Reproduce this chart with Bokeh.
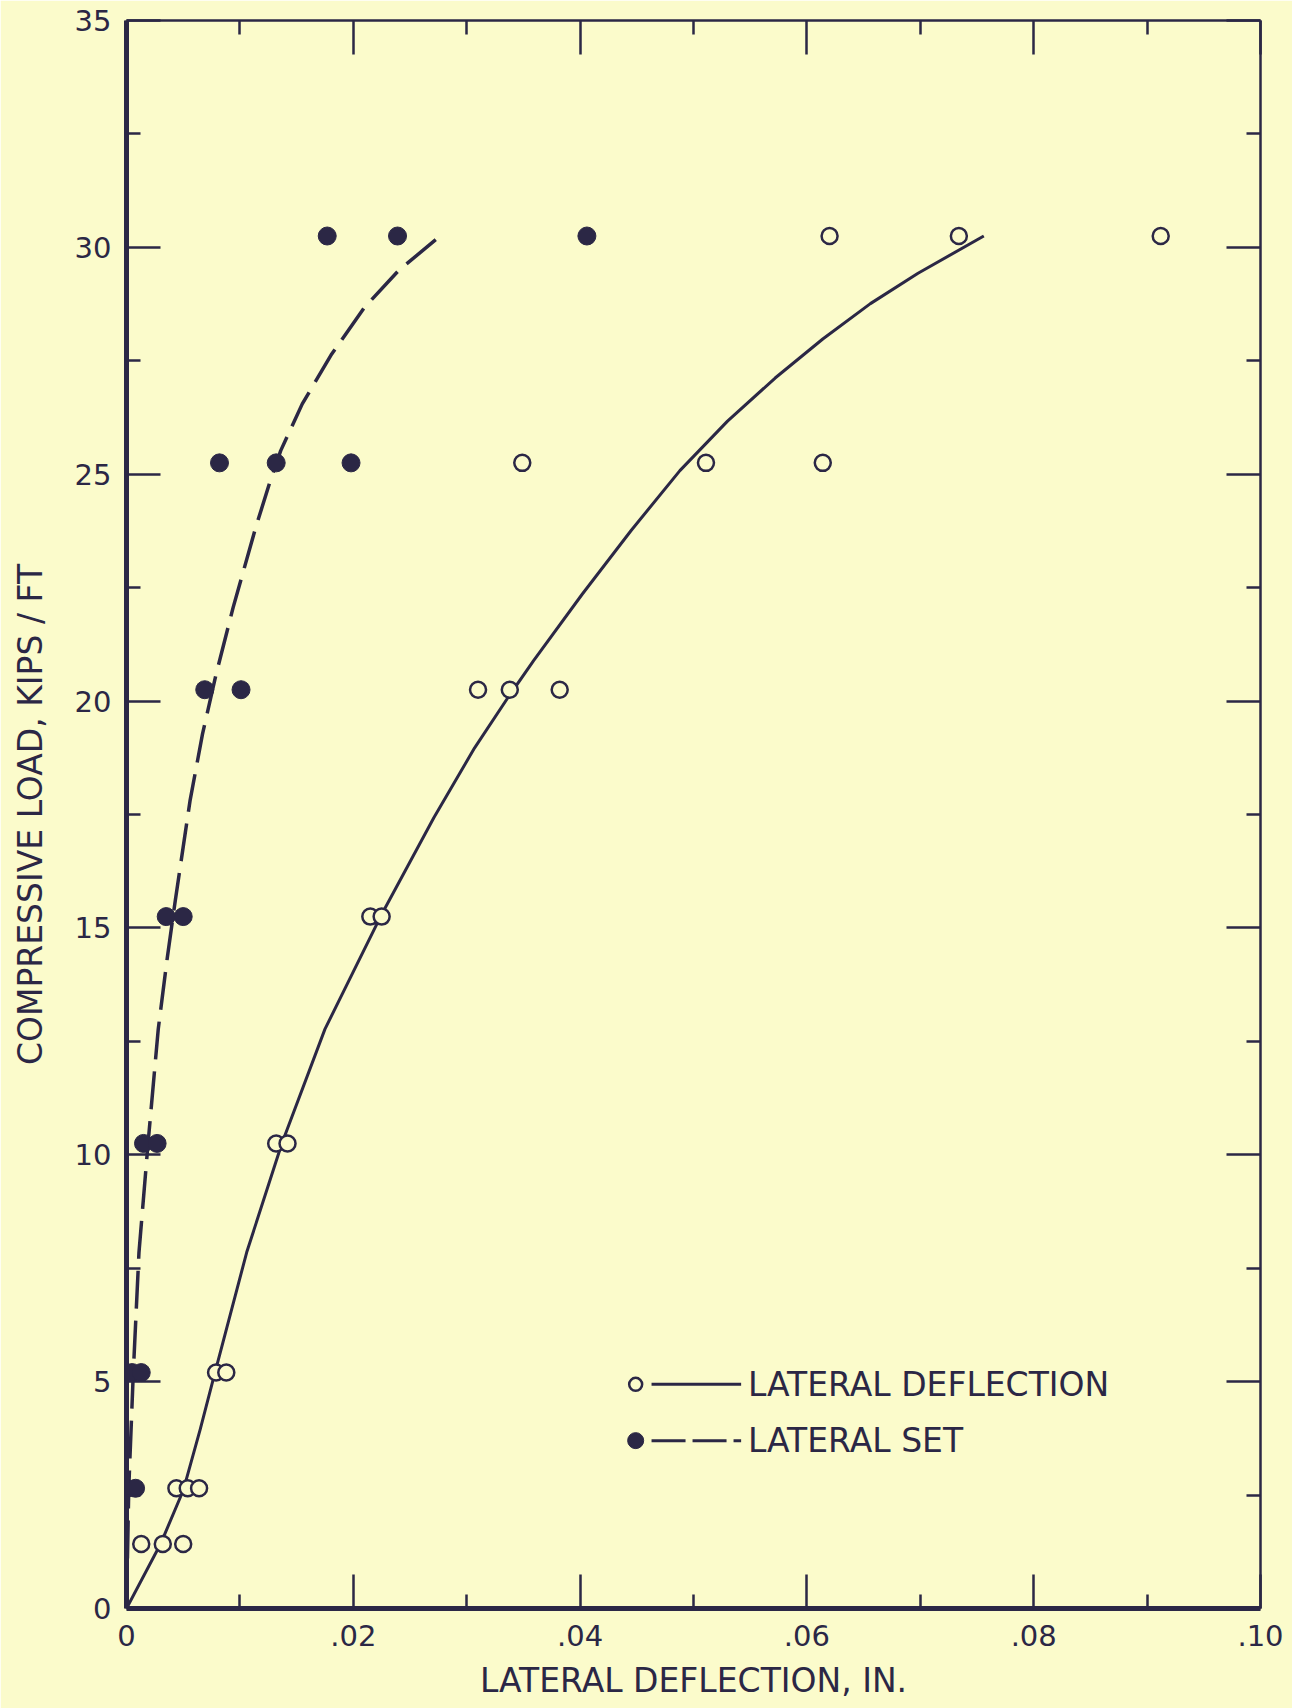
from bokeh.plotting import figure
from bokeh.models import Range1d, LinearAxis, FixedTicker, Label
from bokeh.embed import file_html
from bokeh.resources import INLINE

# ---------------- data ----------------
# Lateral deflection (open circles), inches, and load, kips/ft
defl_x = [0.0620, 0.0734, 0.0912,
          0.0349, 0.0511, 0.0614,
          0.0310, 0.0338, 0.0382,
          0.0215, 0.0225,
          0.0132, 0.0142,
          0.0079, 0.0088,
          0.0044, 0.0054, 0.0064,
          0.0013, 0.0032, 0.0050]
defl_load = [30.25, 30.25, 30.25,
             25.25, 25.25, 25.25,
             20.25, 20.25, 20.25,
             15.25, 15.25,
             10.25, 10.25,
             5.2, 5.2,
             2.65, 2.65, 2.65,
             1.42, 1.42, 1.42]

# Lateral set (filled circles)
set_x = [0.0177, 0.0239, 0.0406,
         0.0082, 0.0132, 0.0198,
         0.0069, 0.0101,
         0.0035, 0.0050,
         0.0015, 0.0027,
         0.0005, 0.0013,
         0.0000, 0.0008]
set_load = [30.25, 30.25, 30.25,
            25.25, 25.25, 25.25,
            20.25, 20.25,
            15.25, 15.25,
            10.25, 10.25,
            5.2, 5.2,
            2.65, 2.65]

# Faired curve through lateral deflection (solid)
defl_curve_x = [0.0, 0.0030, 0.0050, 0.0065, 0.0078, 0.0106, 0.0137, 0.0175,
                0.0224, 0.0271, 0.0307, 0.0337, 0.0359, 0.0402, 0.0445,
                0.0488, 0.0530, 0.0572, 0.0614, 0.0656, 0.0698, 0.0756]
defl_curve_y = [0.0, 1.42, 2.6, 3.95, 5.2, 7.85, 10.25, 12.77,
                15.25, 17.43, 18.97, 20.1, 20.89, 22.36, 23.76,
                25.08, 26.17, 27.12, 27.98, 28.76, 29.43, 30.25]

# Faired curve through lateral set (dashed)
set_curve_x = [0.0, 0.0002, 0.0006, 0.0011, 0.0019, 0.0028, 0.0036, 0.0043,
               0.0056, 0.0067, 0.0079, 0.0094, 0.0114, 0.0126, 0.0136,
               0.0155, 0.0181, 0.0210, 0.0240, 0.0277]
set_curve_y = [0.0, 2.65, 5.2, 7.85, 10.25, 12.77, 14.35, 15.6,
               17.8, 19.27, 20.59, 22.06, 23.83, 24.79, 25.52,
               26.55, 27.65, 28.68, 29.49, 30.26]

x_ticks = [0.0, 0.02, 0.04, 0.06, 0.08, 0.10]
x_tick_labels = ["0", ".02", ".04", ".06", ".08", ".10"]
x_minor_ticks = [0.01, 0.03, 0.05, 0.07, 0.09]
y_ticks = [0, 5, 10, 15, 20, 25, 30, 35]
y_tick_labels = ["0", "5", "10", "15", "20", "25", "30", "35"]
y_minor_ticks = [2.5, 7.5, 12.5, 17.5, 22.5, 27.5, 32.5]

x_title = "LATERAL DEFLECTION, IN."
y_title = "COMPRESSIVE LOAD, KIPS / FT"
legend_labels = ["LATERAL DEFLECTION", "LATERAL SET"]
fig_caption = "FIG. 7"

# ---------------- styling ----------------
BG = "#FBFBCB"
INK = "#2B2745"
FONT = "DejaVu Sans"

p = figure(width=1292, height=1708,
           x_range=Range1d(0, 0.10), y_range=Range1d(0, 35),
           output_backend="svg", toolbar_location=None,
           min_border_left=126, min_border_right=32,
           min_border_top=20, min_border_bottom=100)
p.background_fill_color = BG
p.border_fill_color = BG
p.outline_line_color = None
p.xgrid.visible = False
p.ygrid.visible = False

xt = FixedTicker(ticks=x_ticks, minor_ticks=x_minor_ticks)
yt = FixedTicker(ticks=y_ticks, minor_ticks=y_minor_ticks)


def style_axis(ax, lw, labels):
    ax.axis_line_color = INK
    ax.axis_line_width = lw
    ax.major_tick_line_color = INK
    ax.minor_tick_line_color = INK
    ax.major_tick_line_width = 2.5
    ax.minor_tick_line_width = 2.5
    ax.major_tick_in = 34
    ax.major_tick_out = 0
    ax.minor_tick_in = 14
    ax.minor_tick_out = 0
    if labels:
        ax.major_label_text_font = FONT
        ax.major_label_text_font_size = "29px"
        ax.major_label_text_color = INK
        ax.axis_label_text_font = FONT
        ax.axis_label_text_font_size = "33px"
        ax.axis_label_text_font_style = "normal"
        ax.axis_label_text_color = INK


xa = p.xaxis[0]
xa.ticker = xt
xa.major_label_overrides = dict(zip(x_ticks, x_tick_labels))
style_axis(xa, 5, True)
xa.major_label_standoff = 16
xa.axis_label = x_title
xa.axis_label_standoff = 12

ya = p.yaxis[0]
ya.ticker = yt
ya.major_label_overrides = dict(zip(y_ticks, y_tick_labels))
style_axis(ya, 5, True)
ya.major_label_standoff = 15
ya.axis_label = y_title
ya.axis_label_standoff = 22

# frame edges on top and right: ticks only, no numbers
top = LinearAxis(ticker=xt, major_label_overrides={t: "" for t in x_ticks},
                 major_label_text_font_size="0px", major_label_standoff=0)
style_axis(top, 2.5, False)
p.add_layout(top, "above")
right = LinearAxis(ticker=yt, major_label_overrides={t: "" for t in y_ticks},
                   major_label_text_font_size="0px", major_label_standoff=0)
style_axis(right, 2.5, False)
p.add_layout(right, "right")

# curves
p.line(defl_curve_x, defl_curve_y, line_color=INK, line_width=3,
       line_join="round")
p.line(set_curve_x, set_curve_y, line_color=INK, line_width=3.5,
       line_dash="38 12", line_join="round")

# points
p.scatter(defl_x, defl_load, marker="circle", size=16, fill_color=BG,
          line_color=INK, line_width=2.5)
p.scatter(set_x, set_load, marker="circle", size=18, fill_color=INK,
          line_color=INK)

# legend (drawn by hand, as in the original)
LEG_MARK_X = 0.0449
LEG_LINE_X = [0.0463, 0.0542]
LEG_TEXT_X = 0.0548
LEG_Y = [4.94, 3.70]
p.scatter([LEG_MARK_X], [LEG_Y[0]], marker="circle", size=13, fill_color=BG,
          line_color=INK, line_width=2.5)
p.scatter([LEG_MARK_X], [LEG_Y[1]], marker="circle", size=16, fill_color=INK,
          line_color=INK)
p.line(LEG_LINE_X, [LEG_Y[0], LEG_Y[0]], line_color=INK, line_width=3)
p.line(LEG_LINE_X, [LEG_Y[1], LEG_Y[1]], line_color=INK, line_width=3,
       line_dash="34 7")
for lab, yy in zip(legend_labels, LEG_Y):
    p.add_layout(Label(x=LEG_TEXT_X, y=yy, text=lab, text_font=FONT,
                       text_font_size="33px", text_color=INK,
                       text_baseline="middle", text_align="left"))

# figure caption: in the original it sits at the very bottom edge of the page
p.add_layout(Label(x=0.0898, y=-1.34, text=fig_caption, text_font=FONT,
                   text_font_size="33px", text_color=INK,
                   text_baseline="top", text_align="left"))

open("out.html", "w").write(file_html(p, INLINE))
